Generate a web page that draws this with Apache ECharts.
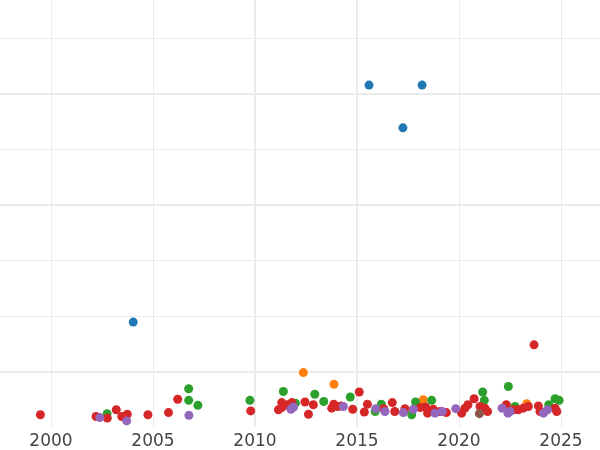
<!DOCTYPE html>
<html>
<head>
<meta charset="utf-8">
<script src="https://cdn.jsdelivr.net/npm/echarts@6/dist/echarts.min.js"></script>
<style>
html,body{margin:0;padding:0;background:#fff;overflow:hidden;width:600px;height:450px}
#wrap{position:relative;width:600px;height:450px;overflow:hidden}
#c{position:absolute;left:-51px;top:-17px;width:714px;height:467px}
</style>
</head>
<body>
<div id="wrap"><div id="c"></div></div>
<script>
const xTicks = [1995, 2000, 2005, 2010, 2015, 2020, 2025, 2030];

const bluePts = [[2015.59,6.16],[2018.19,6.16],[2017.25,5.39],[2004.03,1.89]];
const orangePts = [[2012.37,0.98],[2013.87,0.77],[2018.25,0.49],[2023.32,0.42]];
const greenPts = [
  [2002.75,0.24],[2006.75,0.69],[2006.75,0.48],[2007.2,0.39],[2009.75,0.48],
  [2011.39,0.64],[2011.98,0.43],[2012.93,0.59],[2013.37,0.46],[2014.67,0.54],
  [2015.89,0.28],[2016.19,0.41],[2017.68,0.22],[2017.87,0.45],[2018.66,0.48],
  [2021.16,0.63],[2021.24,0.48],[2022.42,0.73],[2022.75,0.37],[2024.4,0.40],
  [2024.71,0.51],[2024.91,0.48]
];
const redPts = [
  [1999.48,0.22],[2002.21,0.19],[2002.76,0.16],[2003.2,0.31],[2003.47,0.19],
  [2003.74,0.23],[2004.75,0.22],[2005.76,0.26],[2006.21,0.50],[2009.79,0.29],
  [2011.15,0.31],[2011.31,0.44],[2011.31,0.35],[2011.57,0.40],[2011.81,0.44],
  [2012.45,0.45],[2012.62,0.23],[2012.86,0.40],[2013.76,0.34],[2013.86,0.41],
  [2014.05,0.37],[2014.22,0.38],[2014.79,0.32],[2015.11,0.63],[2015.36,0.27],
  [2015.51,0.41],[2016.31,0.33],[2016.73,0.44],[2016.85,0.28],[2017.35,0.33],
  [2018.1,0.35],[2018.36,0.36],[2018.46,0.25],[2018.74,0.32],[2019.07,0.28],
  [2019.38,0.26],[2020.13,0.25],[2020.29,0.34],[2020.44,0.40],[2020.74,0.51],
  [2021.03,0.37],[2021.27,0.34],[2021.4,0.28],[2022.32,0.40],[2022.67,0.31],
  [2022.91,0.31],[2023.15,0.34],[2023.4,0.37],[2023.68,1.48],[2023.89,0.38],
  [2023.97,0.28],[2024.71,0.34],[2024.79,0.28]
];
const purplePts = [
  [2002.39,0.17],[2003.71,0.11],[2006.76,0.21],[2011.89,0.36],[2011.76,0.32],
  [2014.33,0.37],[2015.92,0.33],[2016.37,0.28],[2017.27,0.26],[2017.76,0.32],
  [2018.82,0.25],[2019.18,0.28],[2019.84,0.33],[2022.11,0.34],[2022.4,0.25],
  [2022.5,0.28],[2024.14,0.25],[2024.34,0.31]
];
const brownPts = [[2021.0,0.24]];

const majorX = [2010, 2015];
const majorY = [1, 4, 6];

const gridColor = '#ebebeb';
function sc(name, data, color) {
  return { name, type: 'scatter', data, symbolSize: 9,
    itemStyle: { color, opacity: 1 }, z: 3, silent: true };
}
const chart = echarts.init(document.getElementById('c'), null, {renderer: 'canvas'});
chart.setOption({
  animation: false,
  backgroundColor: '#fff',
  grid: { left: 0, right: 0, top: 0, bottom: 23, containLabel: false, outerBoundsMode: 'none' },
  xAxis: {
    type: 'value', min: xTicks[0], max: xTicks[xTicks.length-1], interval: 5,
    axisLine: { show: false }, axisTick: { show: false },
    axisLabel: { fontSize: 17, color: '#444', fontFamily: 'DejaVu Sans', margin: 6,
      formatter: v => String(v) },
    splitLine: { show: true, lineStyle: { color: gridColor, width: 1 } }
  },
  yAxis: {
    type: 'value', min: 0, max: 8, interval: 1,
    axisLine: { show: false }, axisTick: { show: false }, axisLabel: { show: false },
    splitLine: { show: true, showMinLine: false, lineStyle: { color: gridColor, width: 1 } }
  },
  series: [
    { type: 'scatter', data: [], z: 1, silent: true,
      markLine: { silent: true, z: 1, symbol: 'none', label: { show: false },
        lineStyle: { color: gridColor, width: 2, type: 'solid' },
        data: majorX.map(v => ({ xAxis: v })).concat(majorY.map(v => ({ yAxis: v }))) } },
    sc('blue', bluePts, '#1f77b4'),
    sc('orange', orangePts, '#ff7f0e'),
    sc('green', greenPts, '#2ca02c'),
    sc('red', redPts, '#d62728'),
    sc('purple', purplePts, '#9467bd'),
    sc('brown', brownPts, '#8c564b')
  ]
});
</script>
</body>
</html>
